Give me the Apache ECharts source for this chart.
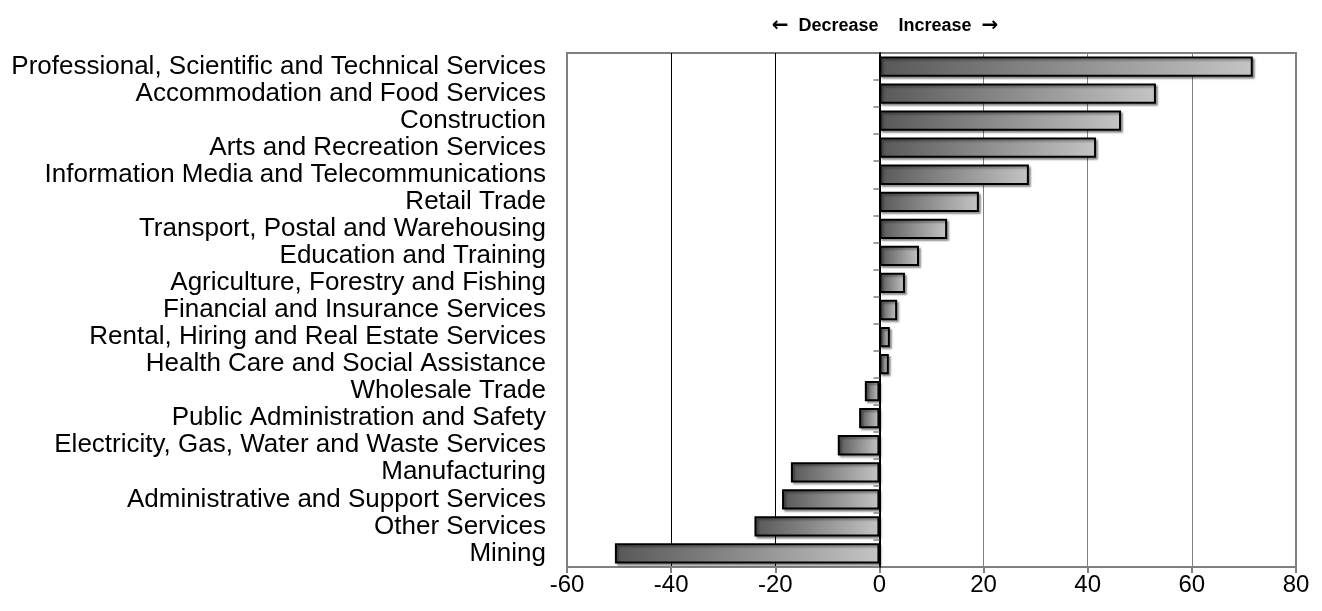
<!DOCTYPE html>
<html>
<head>
<meta charset="utf-8">
<script src="https://cdn.jsdelivr.net/npm/echarts@6/dist/echarts.min.js"></script>
<style>
  html, body { margin: 0; padding: 0; background: #fff; }
  #chart { width: 1322px; height: 611px; }
</style>
</head>
<body>
<div id="chart"></div>
<script>
// Industries, top to bottom
const industries = [
  'Professional, Scientific and Technical Services',
  'Accommodation and Food Services',
  'Construction',
  'Arts and Recreation Services',
  'Information Media and Telecommunications',
  'Retail Trade',
  'Transport, Postal and Warehousing',
  'Education and Training',
  'Agriculture, Forestry and Fishing',
  'Financial and Insurance Services',
  'Rental, Hiring and Real Estate Services',
  'Health Care and Social Assistance',
  'Wholesale Trade',
  'Public Administration and Safety',
  'Electricity, Gas, Water and Waste Services',
  'Manufacturing',
  'Administrative and Support Services',
  'Other Services',
  'Mining'
];

// Change per industry
const change = [71.7, 53.1, 46.4, 41.6, 28.7, 19.1, 13.0, 7.6, 4.9, 3.4, 2.0, 1.8,
  -2.8, -3.9, -8.0, -17.0, -18.7, -24.0, -50.8];

// Value axis range and step
const axisMin = -60;
const axisMax = 80;
const axisStep = 20;

const FONT = '"Liberation Sans", Arial, sans-serif';

const chart = echarts.init(document.getElementById('chart'), null, { renderer: 'canvas' });

const barFill = new echarts.graphic.LinearGradient(0, 0, 1, 0, [
  { offset: 0, color: '#585858' },
  { offset: 1, color: '#c4c4c4' }
]);

chart.setOption({
  animation: false,
  backgroundColor: '#ffffff',
  title: {
    text: '{ar|\u2190}  Decrease    Increase  {ar|\u2192}',
    left: 880,
    top: 11,
    textAlign: 'center',
    textStyle: {
      fontFamily: FONT, fontWeight: 'bold', fontSize: 18, color: '#000',
      rich: {
        ar: { fontFamily: '"DejaVu Sans", sans-serif', fontWeight: 'bold', fontSize: 20, color: '#000' }
      }
    }
  },
  grid: {
    left: 567, right: 26, top: 53, bottom: 44,
    outerBoundsMode: 'none',
    containLabel: false,
    show: true, borderColor: '#808080', borderWidth: 2, backgroundColor: 'transparent'
  },
  xAxis: {
    type: 'value',
    min: axisMin, max: axisMax, interval: axisStep,
    axisLine: { show: true, lineStyle: { color: '#808080', width: 2 } },
    axisTick: { show: true, length: 6, lineStyle: { color: '#808080', width: 2 } },
    axisLabel: { color: '#000', fontFamily: FONT, fontSize: 24, margin: 6 },
    splitLine: {
      show: true,
      lineStyle: {
        width: 1,
        color: ['#808080', '#000000', '#000000', '#000000', '#808080', '#808080', '#808080', '#808080']
      }
    }
  },
  yAxis: {
    type: 'category',
    data: industries,
    inverse: true,
    position: 'left',
    // the axis line sits on zero; its labels stay at the left edge of the plot
    axisLine: { show: true, onZero: true, lineStyle: { color: '#000', width: 2 } },
    axisTick: { show: true, inside: false, length: 6, interval: 0, lineStyle: { color: '#808080', width: 1.5 } },
    axisLabel: { color: '#000', fontFamily: FONT, fontSize: 26, margin: 21, interval: 0 },
    splitLine: { show: false },
    z: 5
  },
  series: [{
    type: 'bar',
    data: change,
    barCategoryGap: '25%',
    itemStyle: {
      color: barFill,
      borderColor: '#000',
      borderWidth: 2,
      shadowColor: 'rgba(0,0,0,0.35)',
      shadowBlur: 2,
      shadowOffsetX: 2,
      shadowOffsetY: 2
    },
    z: 3
  }]
});
</script>
</body>
</html>
